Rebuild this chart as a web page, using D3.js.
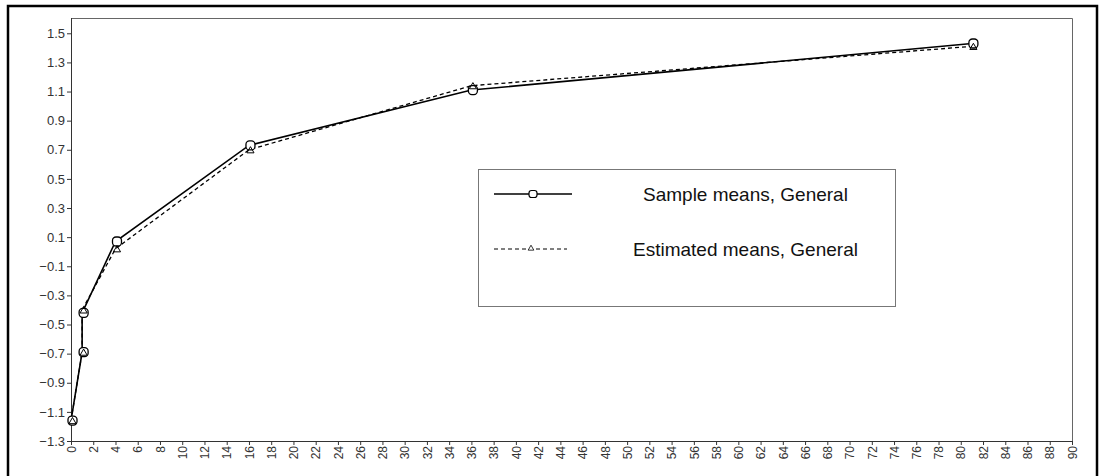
<!DOCTYPE html>
<html>
<head>
<meta charset="utf-8">
<script src="https://cdn.jsdelivr.net/npm/d3@7"></script>
<style>
  body { margin: 0; background: #fff; }
  svg { display: block; font-family: "Liberation Sans", Arial, sans-serif; }
</style>
</head>
<body>
<div id="chart"></div>
<script>
// data
const timePoints = [0, 1, 1, 4, 16, 36, 81];
const sampleMeans = [-1.16, -0.69, -0.42, 0.07, 0.73, 1.11, 1.43];
const estimatedMeans = [-1.16, -0.69, -0.40, 0.02, 0.70, 1.14, 1.41];
const yTicks = [-1.3, -1.1, -0.9, -0.7, -0.5, -0.3, -0.1, 0.1, 0.3, 0.5, 0.7, 0.9, 1.1, 1.3, 1.5];
const xTicks = d3.range(0, 91, 2);
const legendLabels = ["Sample means, General", "Estimated means, General"];

const W = 1099, H = 476;
const margin = {top: 18, right: 27, bottom: 35, left: 71};
const width = W - margin.left - margin.right;
const height = H - margin.top - margin.bottom;

const svg = d3.select("#chart").append("svg")
    .attr("width", W)
    .attr("height", H);

// outer frame
svg.append("rect")
    .attr("x", 8).attr("y", 6)
    .attr("width", 1089).attr("height", 480)
    .attr("fill", "none")
    .attr("stroke", "#000")
    .attr("stroke-width", 2.5);

const g = svg.append("g")
    .attr("transform", "translate(" + margin.left + "," + margin.top + ")");

const x = d3.scaleLinear().domain([0, 90]).range([0, width]);
const y = d3.scaleLinear().domain([-1.3, 1.605]).range([height, 0]);

// top and right border of plot area
g.append("path")
    .attr("d", "M0,0.5H" + (width + 0.5) + "V" + height)
    .attr("fill", "none")
    .attr("stroke", "#666")
    .attr("stroke-width", 1);

const yAxis = g.append("g")
    .call(d3.axisLeft(y).tickValues(yTicks).tickSize(4).tickPadding(2).tickFormat(d3.format(".1f")));
yAxis.select(".domain").attr("d", "M0.5," + height + "V0").attr("stroke", "#333");
yAxis.selectAll(".tick line").attr("stroke", "#333");
yAxis.selectAll("text").attr("fill", "#333").style("font-size", "13px");

const xAxis = g.append("g")
    .attr("transform", "translate(0," + height + ")")
    .call(d3.axisBottom(x).tickValues(xTicks).tickSize(4));
xAxis.select(".domain").attr("d", "M0,0.5H" + width).attr("stroke", "#333");
xAxis.selectAll(".tick line").attr("stroke", "#333");
xAxis.selectAll("text")
    .attr("fill", "#333")
    .style("font-size", "12px")
    .attr("transform", "rotate(-90)")
    .attr("text-anchor", "end")
    .attr("x", -5)
    .attr("y", 0)
    .attr("dy", "0.35em");

const sampleData = timePoints.map((t, i) => ({t: t, v: sampleMeans[i]}));
const estData = timePoints.map((t, i) => ({t: t, v: estimatedMeans[i]}));

const line = d3.line().x(d => x(d.t)).y(d => y(d.v));

g.append("path")
    .datum(estData)
    .attr("d", line)
    .attr("fill", "none")
    .attr("stroke", "#000")
    .attr("stroke-width", 1.3)
    .attr("stroke-dasharray", "4,3");

g.append("path")
    .datum(sampleData)
    .attr("d", line)
    .attr("fill", "none")
    .attr("stroke", "#000")
    .attr("stroke-width", 1.6);

const tri = d3.symbol().type(d3.symbolTriangle).size(22);

g.selectAll(".samp")
    .data(sampleData)
    .enter().append("rect")
    .attr("class", "samp")
    .attr("x", d => x(d.t) - 4.5 + 1.5)
    .attr("y", d => y(d.v) - 4.5)
    .attr("width", 9).attr("height", 9)
    .attr("rx", 3.5)
    .attr("fill", "#fff")
    .attr("stroke", "#000")
    .attr("stroke-width", 1.3);

g.selectAll(".est")
    .data(estData)
    .enter().append("path")
    .attr("class", "est")
    .attr("d", tri)
    .attr("transform", d => "translate(" + (x(d.t) + 1.5) + "," + (y(d.v) + 1) + ")")
    .attr("fill", "none")
    .attr("stroke", "#000")
    .attr("stroke-width", 1);

// legend
const legend = svg.append("g");
legend.append("rect")
    .attr("x", 478.5).attr("y", 169.5)
    .attr("width", 417).attr("height", 137)
    .attr("fill", "#fff")
    .attr("stroke", "#777")
    .attr("stroke-width", 1);

legend.append("line")
    .attr("x1", 494).attr("x2", 572).attr("y1", 194).attr("y2", 194)
    .attr("stroke", "#000").attr("stroke-width", 1.5);
legend.append("rect")
    .attr("x", 529).attr("y", 190.5).attr("width", 8).attr("height", 7).attr("rx", 2.5)
    .attr("fill", "#fff").attr("stroke", "#000").attr("stroke-width", 1.2);

legend.append("line")
    .attr("x1", 494).attr("x2", 567).attr("y1", 249).attr("y2", 249)
    .attr("stroke", "#000").attr("stroke-width", 1)
    .attr("stroke-dasharray", "4,3");
legend.append("path")
    .attr("d", d3.symbol().type(d3.symbolTriangle).size(14))
    .attr("transform", "translate(531,248.5)")
    .attr("fill", "#fff").attr("stroke", "#000").attr("stroke-width", 0.8);

legend.selectAll(".ltext")
    .data(legendLabels)
    .enter().append("text")
    .attr("class", "ltext")
    .attr("x", (d, i) => i === 0 ? 643 : 633)
    .attr("y", (d, i) => i === 0 ? 201 : 256)
    .attr("fill", "#111")
    .style("font-size", "19px")
    .text(d => d);
</script>
</body>
</html>
